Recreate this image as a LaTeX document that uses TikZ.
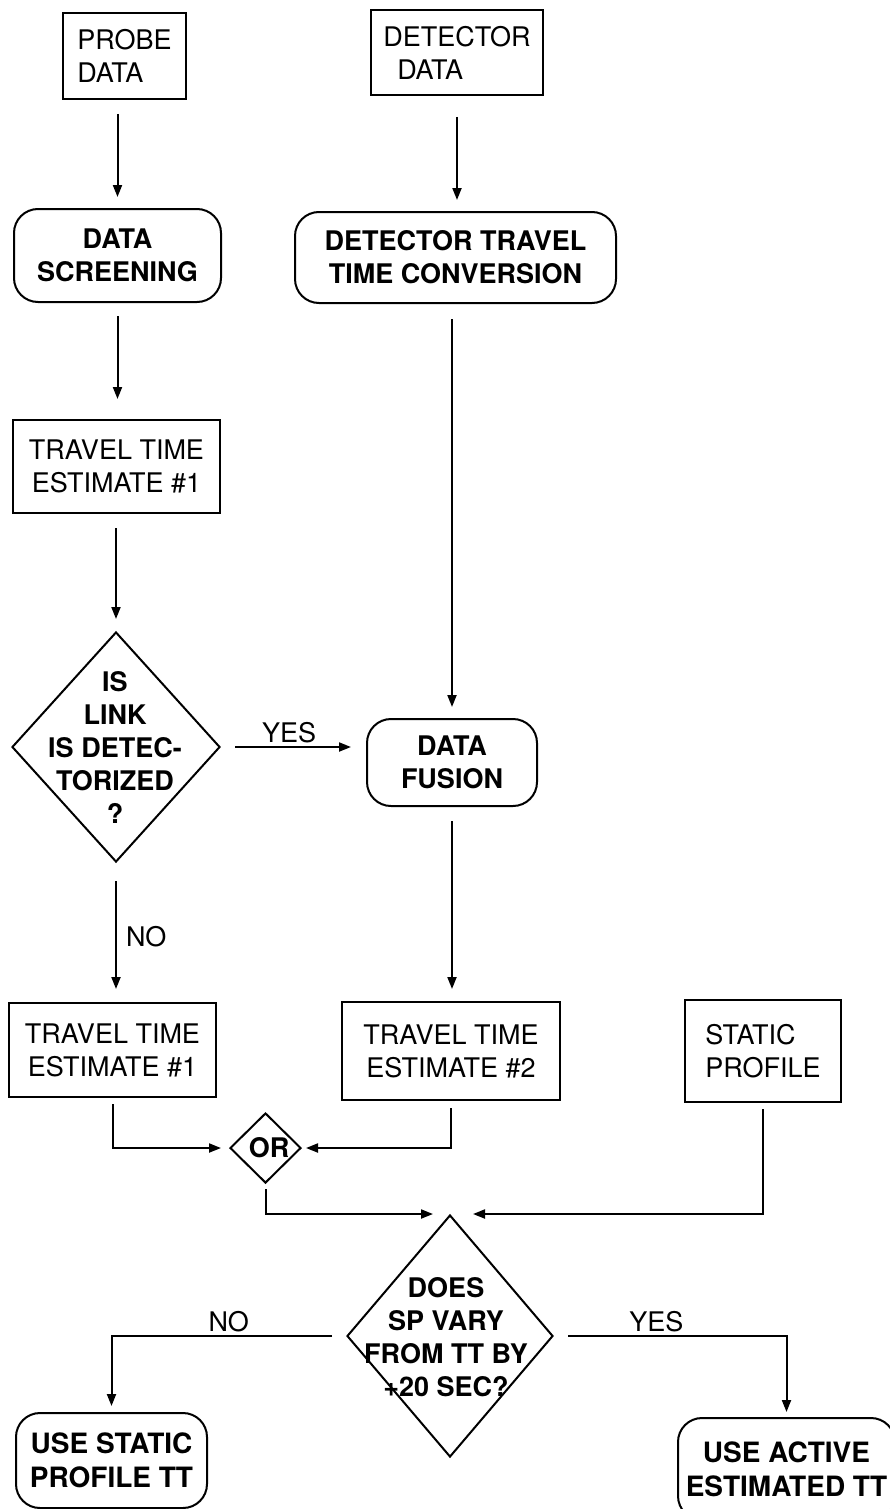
\documentclass[tikz,border=0pt]{standalone}
\usepackage{fontspec}
\setmainfont{TeX Gyre Heros}
\usetikzlibrary{shapes.geometric,arrows.meta}
\newcommand\figfont{\fontsize{27}{33}\selectfont}
\newcommand\figbigfont{\fontsize{28}{34}\selectfont}
\tikzset{
  box/.style={draw, line width=2pt, inner sep=0pt, font=\figfont},
  rbox/.style={box, rounded corners=24pt, align=center, font=\figfont\bfseries},
  dia/.style={draw, diamond, line width=2pt, inner sep=0pt},
  diatext/.style={font=\figfont\bfseries, align=center, inner sep=0pt},
  conn/.style={line width=2pt, -{Triangle[length=12pt,width=9pt]}},
  lbl/.style={font=\figfont, inner sep=3pt}
}
\begin{document}
\begin{tikzpicture}[x=1pt,y=-1pt]
\useasboundingbox (0,0) rectangle (890,1509);
% nodes
\node[box, align=left, minimum width=123pt, minimum height=86pt] (probe) at (124.5,56) {PROBE\\DATA};
\node[box, align=left, minimum width=172pt, minimum height=85pt] (det) at (457,52.5) {DETECTOR\\\hspace*{14pt}DATA};
\node[rbox, minimum width=207pt, minimum height=93pt] (screen) at (117.5,255.5) {DATA\\SCREENING};
\node[rbox, minimum width=321pt, minimum height=91pt] (conv) at (455.5,257.5) {DETECTOR TRAVEL\\TIME CONVERSION};
\node[box, align=center, minimum width=207pt, minimum height=93pt] (tta) at (116.5,466.5) {TRAVEL TIME\\ESTIMATE \#1};
\node[dia, minimum width=208pt, minimum height=230pt] (isl) at (116,747) {};
\node[diatext] (islt) at (115,747) {IS\\LINK\\IS DETEC-\\TORIZED\\?};
\node[rbox, minimum width=170pt, minimum height=87pt] (fusion) at (452,762.5) {DATA\\FUSION};
\node[box, align=center, minimum width=207pt, minimum height=94pt] (ttb) at (112.5,1050) {TRAVEL TIME\\ESTIMATE \#1};
\node[box, align=center, minimum width=218pt, minimum height=98pt] (tt2) at (451,1051) {TRAVEL TIME\\ESTIMATE \#2};
\node[box, align=left, minimum width=156pt, minimum height=102pt] (static) at (763,1051) {STATIC\\PROFILE};
\node[dia, minimum width=71pt, minimum height=70pt] (or) at (265.5,1148) {};
\node[diatext] (ort) at (269,1148) {OR};
\node[dia, minimum width=206pt, minimum height=242pt] (big) at (450,1336) {};
\node[diatext] (bigt) at (446,1337) {DOES\\SP VARY\\FROM TT BY\\+20 SEC?};
\node[rbox, font=\figbigfont\bfseries, minimum width=191pt, minimum height=95pt] (ustatic) at (111.5,1460.5) {USE STATIC\\PROFILE TT};
\node[rbox, font=\figbigfont\bfseries, minimum width=217pt, minimum height=102pt] (uactive) at (786.5,1469) {USE ACTIVE\\ESTIMATED TT};
% connectors
\draw[conn, shorten <=14pt, shorten >=11pt] (probe.south -| screen.north) -- (screen.north);
\draw[conn, shorten <=21pt, shorten >=11pt] (det.south) -- (det.south |- conv.north);
\draw[conn, shorten <=13pt, shorten >=20pt] (screen.south) -- (screen.south |- tta.north);
\draw[conn, shorten <=14pt, shorten >=12pt] (tta.south -| isl.north) -- (isl.north);
\draw[conn, shorten <=15pt, shorten >=11pt] (conv.south -| fusion.north) -- (fusion.north);
\draw[conn, shorten <=14pt, shorten >=15pt] (isl.east) -- node[lbl, above, pos=0.47]{YES} (isl.east -| fusion.west);
\draw[conn, shorten <=18pt, shorten >=13pt] (isl.south) -- node[lbl, right, pos=0.53, xshift=6pt]{NO} (isl.south |- ttb.north);
\draw[conn, shorten <=14pt, shorten >=12pt] (fusion.south) -- (fusion.south |- tt2.north);
\draw[conn, shorten <=6pt, shorten >=8pt] (ttb.south) |- (or.west);
\draw[conn, shorten <=7pt, shorten >=4pt] (tt2.south) |- (or.east);
\draw[conn, shorten <=5pt, shorten >=17pt] (or.south) |- (big.north);
\draw[conn, shorten <=6pt, shorten >=23pt] (static.south) |- (big.north);
\draw[conn, shorten <=14pt, shorten >=6pt] (big.west) -| node[lbl, above, pos=0.25]{NO} (ustatic.north);
\draw[conn, shorten <=14pt, shorten >=5pt] (big.east) -| node[lbl, above, pos=0.22]{YES} (uactive.north);
\end{tikzpicture}
\end{document}
